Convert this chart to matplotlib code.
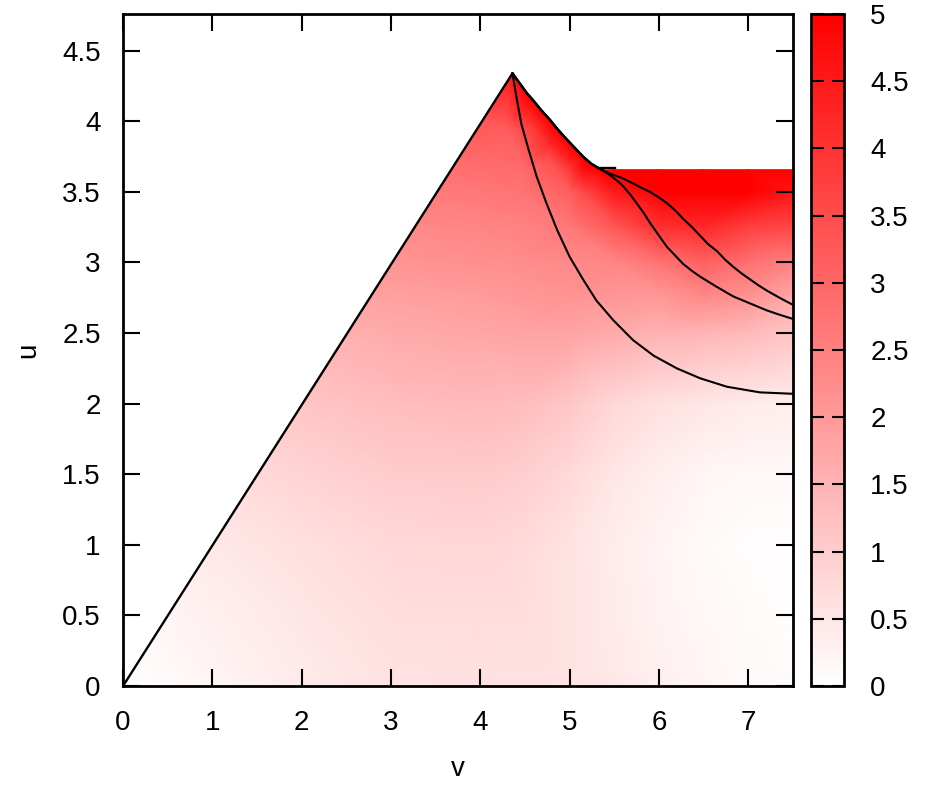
import numpy as np
import matplotlib
matplotlib.use("Agg")
import matplotlib.pyplot as plt
import matplotlib.tri as mtri
from matplotlib.colors import LinearSegmentedColormap
from matplotlib.patches import Polygon

plt.rcParams['font.family'] = ['Liberation Sans', 'DejaVu Sans']

# sampled field values, rows = u, columns = v
v_grid = [0, 1, 2, 3, 4, 4.5, 5, 5.5, 6, 6.5, 7, 7.5]
u_grid = [0, 0.5, 1, 1.5, 2, 2.5, 2.75, 3, 3.25, 3.5, 3.66]
z_grid = [
    [0.00, 0.20, 0.40, 0.55, 0.60, 0.60, 0.55, 0.45, 0.30, 0.20, 0.12, 0.08],
    [0.10, 0.30, 0.50, 0.65, 0.68, 0.65, 0.55, 0.40, 0.25, 0.15, 0.08, 0.05],
    [0.25, 0.45, 0.62, 0.75, 0.80, 0.72, 0.55, 0.38, 0.22, 0.10, 0.05, 0.05],
    [0.45, 0.65, 0.85, 1.00, 1.05, 0.95, 0.75, 0.50, 0.32, 0.18, 0.12, 0.15],
    [0.70, 0.95, 1.15, 1.30, 1.35, 1.30, 1.10, 0.80, 0.60, 0.50, 0.40, 0.35],
    [1.00, 1.25, 1.50, 1.65, 1.75, 1.80, 1.80, 1.65, 1.50, 1.45, 1.35, 1.15],
    [1.15, 1.45, 1.70, 1.85, 1.95, 2.05, 2.10, 2.05, 2.00, 2.30, 2.10, 1.70],
    [1.30, 1.65, 1.90, 2.10, 2.20, 2.25, 2.30, 2.40, 2.75, 3.10, 2.80, 2.45],
    [1.50, 1.85, 2.10, 2.30, 2.40, 2.45, 2.65, 3.30, 4.05, 4.20, 3.75, 3.60],
    [1.70, 2.05, 2.35, 2.55, 2.65, 2.75, 3.15, 4.50, 5.50, 5.60, 5.00, 4.60],
    [1.80, 2.15, 2.45, 2.70, 2.85, 2.90, 3.90, 5.20, 5.80, 5.90, 5.60, 5.00],
]

# extra samples in the upper cusp, near the curved edge
v_top = [4.0, 4.36, 4.29, 4.59, 4.78, 4.97, 4.78, 5.15, 5.15,
         4.44, 4.59, 4.78, 4.97, 5.15, 5.32]
u_top = [4.0, 4.34, 3.96, 3.96, 3.84, 3.72, 3.72, 3.65, 3.49,
         4.27, 4.15, 4.01, 3.87, 3.75, 3.67]
z_top = [3.3, 4.6, 3.2, 3.9, 4.2, 4.2, 3.4, 4.7, 3.5,
         4.8, 5.0, 5.2, 5.3, 5.4, 5.4]

# upper boundary of the domain (peak -> corner)
bnd_v = [4.36, 4.44, 4.52, 4.59, 4.68, 4.78, 4.87, 4.97, 5.06, 5.15, 5.24, 5.32]
bnd_u = [4.34, 4.27, 4.20, 4.15, 4.08, 4.01, 3.94, 3.87, 3.81, 3.75, 3.70, 3.67]
u_cap = 3.66

# trajectories
a_v = [4.36, 4.41, 4.46, 4.54, 4.63, 4.74, 4.86, 5.00, 5.15, 5.30, 5.49, 5.71,
       5.94, 6.20, 6.46, 6.76, 7.13, 7.5]
a_u = [4.34, 4.15, 3.98, 3.80, 3.61, 3.42, 3.23, 3.04, 2.88, 2.73, 2.59, 2.45,
       2.34, 2.25, 2.18, 2.12, 2.08, 2.07]
b_v = bnd_v + [5.40, 5.45, 5.53, 5.60, 5.68, 5.75, 5.83, 5.90, 6.00, 6.09, 6.18,
               6.27, 6.37, 6.46, 6.64, 6.83, 7.02, 7.21, 7.35, 7.5]
b_u = bnd_u + [3.64, 3.62, 3.58, 3.54, 3.48, 3.42, 3.35, 3.28, 3.19, 3.11, 3.05,
               2.99, 2.94, 2.90, 2.83, 2.76, 2.71, 2.66, 2.63, 2.60]
c_v = bnd_v + [5.45, 5.58, 5.71, 5.80, 5.90, 6.00, 6.09, 6.18, 6.27, 6.37, 6.46,
               6.55, 6.65, 6.74, 6.83, 6.93, 7.02, 7.11, 7.21, 7.35, 7.5]
c_u = bnd_u + [3.63, 3.60, 3.56, 3.53, 3.50, 3.46, 3.42, 3.37, 3.31, 3.25, 3.19,
               3.13, 3.08, 3.02, 2.97, 2.92, 2.88, 2.84, 2.80, 2.75, 2.70]

fig = plt.figure(figsize=(9.37, 7.92), dpi=100)
ax = fig.add_axes([0.1313, 0.1338, 0.715, 0.8485])
cax = fig.add_axes([0.8655, 0.1338, 0.035, 0.8485])

vv, uu = np.meshgrid(v_grid, u_grid)
pts_v = np.concatenate([vv.ravel(), v_top])
pts_u = np.concatenate([uu.ravel(), u_top])
pts_z = np.concatenate([np.array(z_grid).ravel(), z_top])
tri = mtri.Triangulation(pts_v, pts_u)

cmap = LinearSegmentedColormap.from_list("wr", ["#ffffff", "#ff0000"])
mesh = ax.tripcolor(tri, pts_z, shading='gouraud', cmap=cmap, vmin=0, vmax=5)

verts = [(0, 0)] + list(zip(bnd_v, bnd_u)) + [(bnd_v[-1], u_cap), (7.5, u_cap), (7.5, 0)]
clip = Polygon(verts, closed=True, transform=ax.transData)
mesh.set_clip_path(clip)

ax.plot([0] + bnd_v, [0] + bnd_u, color='black', lw=1.7)
ax.plot([5.32, 5.51], [3.67, 3.67], color='black', lw=1.7)
for xs, ys in [(a_v, a_u), (b_v, b_u), (c_v, c_u)]:
    ax.plot(xs, ys, color='black', lw=1.5)

ax.set_xlim(0, 7.5)
ax.set_ylim(0, 4.76)
ax.set_xticks(range(8))
ax.set_xticklabels([str(i) for i in range(8)])
yt = [0, 0.5, 1, 1.5, 2, 2.5, 3, 3.5, 4, 4.5]
ax.set_yticks(yt)
ax.set_yticklabels(['0', '0.5', '1', '1.5', '2', '2.5', '3', '3.5', '4', '4.5'])
ax.tick_params(direction='in', top=True, right=True, length=12, width=1.5,
               labelsize=20, pad=16)
ax.tick_params(axis='x', pad=17)
for s in ax.spines.values():
    s.set_linewidth(2)
ax.set_xlabel('v', fontsize=20, labelpad=15)
ax.set_ylabel('u', fontsize=20, labelpad=15)

cb = fig.colorbar(mesh, cax=cax)
ct = [0, 0.5, 1, 1.5, 2, 2.5, 3, 3.5, 4, 4.5, 5]
cb.set_ticks(ct)
cb.set_ticklabels(['0', '0.5', '1', '1.5', '2', '2.5', '3', '3.5', '4', '4.5', '5'])
cax.tick_params(axis='y', direction='in', left=True, right=True, length=9,
                width=1.5, labelsize=20, pad=19)
cb.outline.set_linewidth(2)

fig.savefig("out.png", dpi=100)
